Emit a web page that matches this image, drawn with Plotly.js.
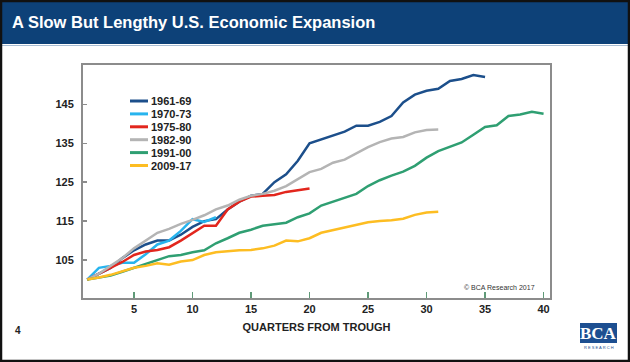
<!DOCTYPE html>
<html><head><meta charset="utf-8">
<script src="https://cdn.plot.ly/plotly-3.0.1.min.js"></script>
<style>html,body{margin:0;padding:0;background:#fff;}#chart{width:630px;height:362px;}</style>
</head><body><div id="chart"></div>
<script>
// ---- data ----
const quarters = [1,2,3,4,5,6,7,8,9,10,11,12,13,14,15,16,17,18,19,20,21,22,23,24,25,26,27,28,29,30,31,32,33,34,35,36,37,38,39,40];
const seriesNames = ["1961-69","1970-73","1975-80","1982-90","1991-00","2009-17"];
const seriesColors = ["#1c4f8b","#27b4ee","#e2261d","#b4b4b4","#2f9f72","#fdbd22"];
const v1961 = [100,101.5,103,105.5,107.5,109,110,110,111.5,113.5,115,115.5,118,120,121.5,122,125,127,130.5,135,136,137,138,139.5,139.5,140.5,142,145.5,147.5,148.5,149,151,151.5,152.5,152];
const v1970 = [100,103,103.5,104.3,104.3,106.5,109,110,112.5,115.5,114.8,116];
const v1975 = [100,101.5,103,104.5,106.3,107.2,107.6,108.3,110,112,113.8,113.8,118,120,121.3,121.5,121.7,122.5,123,123.4];
const v1982 = [100,101.5,103.5,105.5,108,110,112,113,114.3,115.3,116.5,118,119,120.5,121.5,122,122.8,124,125.8,127.6,128.4,130,130.8,132.5,134,135.3,136.2,136.6,137.8,138.4,138.5];
const v1991 = [100,100.5,101,102,103,104,105,106,106.3,107,107.5,109.3,110.6,112,112.8,113.8,114.2,114.6,116,117,119,120,120.9,122,124,125.5,126.7,127.7,129.2,131.3,133,134.2,135.2,137.2,139.2,139.6,142,142.4,143.1,142.6];
const v2009 = [100,100.5,101.2,102,103,103.5,104.2,103.8,104.6,105,106.3,107,107.3,107.5,107.6,108,108.7,110,109.8,110.6,112,112.7,113.3,114,114.7,115,115.2,115.6,116.6,117.2,117.4];
const seriesValues = [v1961,v1970,v1975,v1982,v1991,v2009];
const xTicks = [5,10,15,20,25,30,35,40];
const yTicks = [105,115,125,135,145];
const titleText = "A Slow But Lengthy U.S. Economic Expansion";
const xTitle = "QUARTERS FROM TROUGH";

// ---- layout helpers (pixel -> paper) ----
const L=83,R=550,T=65,B=298;
const px = x => (x-L)/(R-L);
const py = y => (B-y)/(B-T);

const traces = seriesValues.map((vals,i)=>({
  type:'scatter', mode:'lines', name:seriesNames[i],
  x: quarters.slice(0, vals.length), y: vals,
  line:{color:seriesColors[i], width:2.5}, showlegend:false, hoverinfo:'skip'
}));

const shapes = [
  {type:'rect', xref:'paper', yref:'paper', x0:px(2), x1:px(628), y0:py(44), y1:py(2), fillcolor:'#0d4178', line:{width:0}, layer:'below'},
  {type:'line', xref:'paper', yref:'paper', x0:px(2), x1:px(628), y0:py(45.5), y1:py(45.5), line:{color:'#a9bdd3', width:1}},
  {type:'rect', xref:'paper', yref:'paper', x0:px(1), x1:px(629), y0:py(361), y1:py(1), line:{color:'#111', width:2.5}},
  {type:'rect', xref:'paper', yref:'paper', x0:px(580), x1:px(617), y0:py(343), y1:py(323), fillcolor:'#1d4f91', line:{width:0}}
];
const annotations = [];
const legTop = 101, legStep = 12.9;
seriesNames.forEach((n,i)=>{
  const yy = legTop + i*legStep;
  shapes.push({type:'line', xref:'paper', yref:'paper', x0:px(130), x1:px(148), y0:py(yy), y1:py(yy), line:{color:seriesColors[i], width:3}});
  annotations.push({xref:'paper', yref:'paper', x:px(149), y:py(yy), xanchor:'left', yanchor:'middle', text:n, showarrow:false,
    font:{family:'Liberation Sans, Arial, sans-serif', size:11, color:'#222', weight:'bold'}});
});
annotations.push({xref:'paper', yref:'paper', x:px(537), y:py(287), xanchor:'right', yanchor:'middle', text:'© BCA Research 2017', showarrow:false,
  font:{family:'Liberation Sans, Arial, sans-serif', size:7, color:'#333'}});
annotations.push({xref:'paper', yref:'paper', x:px(18), y:py(330), xanchor:'center', yanchor:'middle', text:'4', showarrow:false,
  font:{family:'Liberation Sans, Arial, sans-serif', size:10, color:'#222', weight:'bold'}});
annotations.push({xref:'paper', yref:'paper', x:px(598.5), y:py(333), xanchor:'center', yanchor:'middle', text:'BCA', showarrow:false,
  font:{family:'Liberation Serif, Times New Roman, serif', size:17, color:'#fff', weight:'bold'}});
annotations.push({xref:'paper', yref:'paper', x:px(598.5), y:py(347), xanchor:'center', yanchor:'middle', text:'R E S E A R C H', showarrow:false,
  font:{family:'Liberation Sans, Arial, sans-serif', size:4, color:'#1d4f91'}});

const layout = {
  width:630, height:362,
  margin:{l:L, r:630-R, t:T, b:362-B, pad:0},
  paper_bgcolor:'#fff', plot_bgcolor:'#fff',
  title:{text:titleText, xref:'container', yref:'container', x:12/630, xanchor:'left', y:1-22/362, yanchor:'middle',
    font:{family:'Liberation Sans, Arial, sans-serif', size:16.5, color:'#fff', weight:'bold'}},
  xaxis:{range:[0.64,40.55], tickvals:xTicks, ticks:'inside', ticklen:6, tickwidth:1.5, tickcolor:'#5f9a78',
    showgrid:false, zeroline:false, showline:true, mirror:true, linecolor:'#8c8c8c', linewidth:2,
    tickfont:{family:'Liberation Sans, Arial, sans-serif', size:11, color:'#222', weight:'bold'},
    title:{text:xTitle, standoff:9, font:{family:'Liberation Sans, Arial, sans-serif', size:11, color:'#222', weight:'bold'}}},
  yaxis:{range:[95.25,155.1], tickvals:yTicks, ticks:'inside', ticklen:4, tickwidth:1.5, tickcolor:'#8c8c8c',
    showgrid:false, zeroline:false, showline:true, mirror:true, linecolor:'#8c8c8c', linewidth:2,
    tickfont:{family:'Liberation Sans, Arial, sans-serif', size:11, color:'#222', weight:'bold'}, ticklabelstandoff:5},
  shapes, annotations, showlegend:false
};
Plotly.newPlot('chart', traces, layout, {displayModeBar:false, staticPlot:true});
</script></body></html>
